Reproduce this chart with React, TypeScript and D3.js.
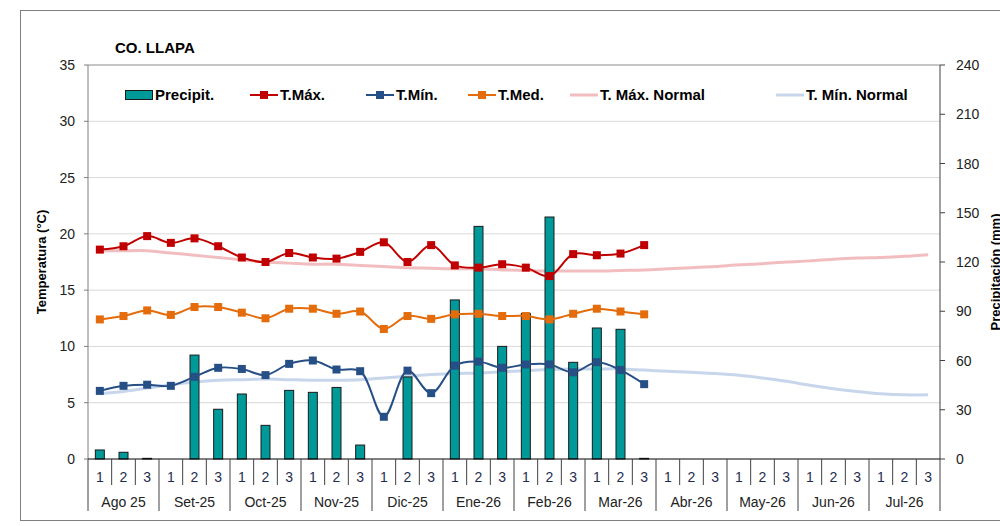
import React from 'react';
import * as d3 from 'd3';

// dekads (1,2,3) per month, Ago 25 .. Jul-26
const months = ['Ago 25', 'Set-25', 'Oct-25', 'Nov-25', 'Dic-25', 'Ene-26', 'Feb-26', 'Mar-26', 'Abr-26', 'May-26', 'Jun-26', 'Jul-26'];
const dekads = ['1', '2', '3'];

// observed (Ago 25 dek 1 .. Mar-26 dek 3)
const precip = [5.5, 4.1, 0.4, 0, 63.3, 30.3, 39.6, 20.5, 41.8, 40.6, 43.6, 8.5, 0, 50, 0, 96.9, 141.7, 68.6, 88.7, 147.4, 58.9, 79.8, 79, 0.4];
const tMax = [18.6, 18.9, 19.8, 19.2, 19.6, 18.9, 17.9, 17.5, 18.3, 17.9, 17.8, 18.4, 19.25, 17.5, 19.0, 17.2, 17.0, 17.3, 17.0, 16.25, 18.2, 18.1, 18.25, 19.0];
const tMin = [6.05, 6.5, 6.6, 6.5, 7.3, 8.1, 8.0, 7.45, 8.45, 8.75, 7.95, 7.8, 3.75, 7.85, 5.85, 8.3, 8.65, 8.1, 8.4, 8.4, 7.7, 8.6, 7.9, 6.65];
const tMed = [12.4, 12.7, 13.2, 12.8, 13.5, 13.5, 13.0, 12.5, 13.35, 13.35, 12.9, 13.1, 11.55, 12.7, 12.45, 12.85, 12.9, 12.7, 12.7, 12.4, 12.9, 13.35, 13.1, 12.85];

// climatological normals, full year
const tMaxNormal = [18.5, 18.5, 18.5, 18.3, 18.1, 17.9, 17.7, 17.5, 17.4, 17.3, 17.3, 17.2, 17.1, 17.0, 16.95, 16.9, 16.9, 16.8, 16.75, 16.7, 16.7, 16.7, 16.75, 16.8, 16.9, 17.0, 17.1, 17.25, 17.35, 17.5, 17.6, 17.75, 17.85, 17.9, 18.0, 18.15];
const tMinNormal = [5.8, 6.0, 6.3, 6.6, 6.85, 7.0, 7.05, 7.1, 7.05, 7.0, 7.0, 7.05, 7.2, 7.35, 7.5, 7.6, 7.65, 7.75, 7.85, 7.95, 8.0, 8.0, 8.0, 7.9, 7.8, 7.7, 7.6, 7.45, 7.2, 6.9, 6.55, 6.25, 6.0, 5.8, 5.7, 5.7];

const tempTicks = [0, 5, 10, 15, 20, 25, 30, 35];
const precipTicks = [0, 30, 60, 90, 120, 150, 180, 210, 240];

const C_BAR = '#009999';
const C_MAX = '#C00000';
const C_MIN = '#264F86';
const C_MED = '#E46C0A';
const C_MAXN = '#F2BDBF';
const C_MINN = '#C8D6EB';
const FONT = '"Liberation Sans", Arial, sans-serif';

export default function App() {
  const W = 1000, H = 526;
  const left = 88, right = 940, top = 65, bottom = 459;

  const cats = months.flatMap((m) => dekads.map((d) => `${m}|${d}`));
  const x = d3.scaleBand().domain(cats).range([left, right]);
  const yT = d3.scaleLinear().domain([0, 35]).range([bottom, top]);
  const yP = d3.scaleLinear().domain([0, 240]).range([bottom, top]);
  const cx = (i: number) => (x(cats[i]) as number) + x.bandwidth() / 2;

  const line = d3.line<number>().x((_, i) => cx(i)).y((d) => yT(d)).curve(d3.curveCatmullRom.alpha(0.5));
  const barW = 9;

  const markerSeries = [
    { data: tMax, color: C_MAX },
    { data: tMed, color: C_MED },
    { data: tMin, color: C_MIN },
  ];

  const legend = [
    { label: 'T.Máx.', x: 250, color: C_MAX, marker: true, w: 2 },
    { label: 'T.Mín.', x: 366, color: C_MIN, marker: true, w: 2 },
    { label: 'T.Med.', x: 468, color: C_MED, marker: true, w: 2 },
    { label: 'T. Máx. Normal', x: 570, color: C_MAXN, marker: false, w: 3 },
    { label: 'T. Mín. Normal', x: 776, color: C_MINN, marker: false, w: 3 },
  ];

  return (
    <svg width={W} height={H} style={{ position: 'absolute', left: 0, top: 0, background: '#fff' }} fontFamily={FONT}>
      <rect x={20.5} y={10.5} width={1000} height={510} fill="#fff" stroke="#7f7f7f" />
      <text x={115} y={53} fontSize={15} fontWeight="bold" fill="#000">CO. LLAPA</text>

      {/* grid */}
      {tempTicks.slice(1).map((t) => (
        <line key={t} x1={left} x2={right} y1={yT(t)} y2={yT(t)} stroke={t === 35 ? '#8c8c8c' : '#d9d9d9'} strokeWidth={1} />
      ))}

      {/* left axis */}
      <line x1={left} x2={left} y1={top} y2={bottom} stroke="#7f7f7f" />
      {tempTicks.map((t) => (
        <g key={t}>
          <line x1={left - 4} x2={left} y1={yT(t)} y2={yT(t)} stroke="#7f7f7f" />
          <text x={75} y={yT(t) + 5} fontSize={14} textAnchor="end" fill="#222">{t}</text>
        </g>
      ))}
      <text transform={`translate(46,${(top + bottom) / 2}) rotate(-90)`} fontSize={13} fontWeight="bold" textAnchor="middle" fill="#000">Temperatura (°C)</text>

      {/* right axis */}
      <line x1={right} x2={right} y1={top} y2={bottom} stroke="#404040" />
      {precipTicks.map((p) => (
        <g key={p}>
          <line x1={right} x2={right + 5} y1={yP(p)} y2={yP(p)} stroke="#404040" />
          <text x={956} y={yP(p) + 5} fontSize={14} fill="#222">{p}</text>
        </g>
      ))}
      <text transform={`translate(1000,${(top + bottom) / 2 + 10}) rotate(-90)`} fontSize={13} fontWeight="bold" textAnchor="middle" fill="#000">Precipitación (mm)</text>

      {/* normals */}
      <path d={line(tMaxNormal) ?? ''} fill="none" stroke={C_MAXN} strokeWidth={3} />
      <path d={line(tMinNormal) ?? ''} fill="none" stroke={C_MINN} strokeWidth={3} />

      {/* bars */}
      {precip.map((p, i) => (p > 0 ? (
        <rect key={i} x={cx(i) - barW / 2} y={yP(p)} width={barW} height={bottom - yP(p)} fill={C_BAR} stroke="#1a1a1a" strokeWidth={1} />
      ) : null))}

      {/* observed temps */}
      {markerSeries.map((s) => (
        <g key={s.color}>
          <path d={line(s.data) ?? ''} fill="none" stroke={s.color} strokeWidth={2} />
          {s.data.map((v, i) => (
            <rect key={i} x={cx(i) - 4} y={yT(v) - 4} width={8} height={8} fill={s.color} />
          ))}
        </g>
      ))}

      {/* x axis */}
      <line x1={left} x2={right} y1={bottom} y2={bottom} stroke="#000" />
      {cats.map((c, i) => {
        const x0 = x(c) as number;
        const isMonth = i % 3 === 0;
        return (
          <g key={c}>
            <line x1={x0} x2={x0} y1={bottom} y2={isMonth ? 511 : 485} stroke="#404040" />
            <text x={cx(i)} y={482} fontSize={14} textAnchor="middle" fill="#1f2d4f">{dekads[i % 3]}</text>
          </g>
        );
      })}
      <line x1={right} x2={right} y1={bottom} y2={511} stroke="#404040" />
      {months.map((m, k) => (
        <text key={m} x={cx(k * 3 + 1)} y={507} fontSize={14} textAnchor="middle" fill="#222">{m}</text>
      ))}

      {/* legend */}
      <rect x={125.5} y={90.5} width={27} height={9} fill={C_BAR} stroke="#1a1a1a" />
      <text x={155} y={100} fontSize={15} fontWeight="bold" fill="#000">Precipit.</text>
      {legend.map((l) => (
        <g key={l.label}>
          <line x1={l.x} x2={l.x + 28} y1={95} y2={95} stroke={l.color} strokeWidth={l.w} />
          {l.marker && <rect x={l.x + 10} y={91} width={8} height={8} fill={l.color} />}
          <text x={l.x + 30} y={100} fontSize={15} fontWeight="bold" fill="#000">{l.label}</text>
        </g>
      ))}
    </svg>
  );
}
